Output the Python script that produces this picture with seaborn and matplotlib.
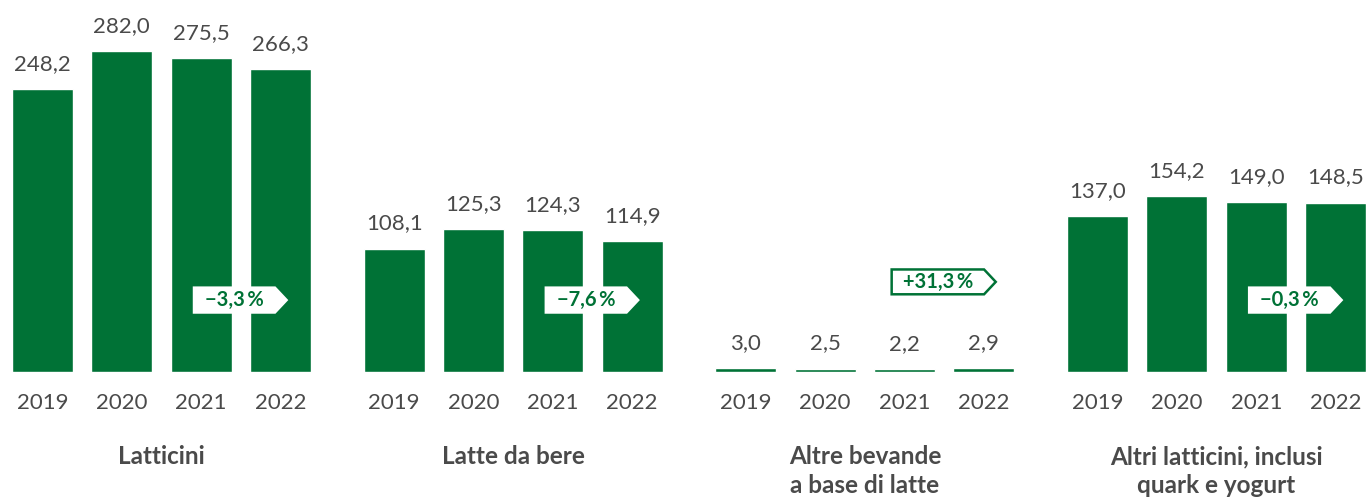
import numpy as np
import pandas as pd
import matplotlib
matplotlib.use('Agg')
import matplotlib.pyplot as plt
from matplotlib.path import Path
import seaborn as sns

# Dati (milioni di ...)
anni = ['2019', '2020', '2021', '2022']
categorie = ['Latticini', 'Latte da bere', 'Altre bevande\na base di latte',
             'Altri latticini, inclusi\nquark e yogurt']
latticini = [248.2, 282.0, 275.5, 266.3]
latte_da_bere = [108.1, 125.3, 124.3, 114.9]
altre_bevande = [3.0, 2.5, 2.2, 2.9]
altri_latticini = [137.0, 154.2, 149.0, 148.5]
variazioni = ['−3,3\u2009%', '−7,6\u2009%', '+31,3\u2009%', '−0,3\u2009%']

serie = [latticini, latte_da_bere, altre_bevande, altri_latticini]

verde = '#007236'
grigio = '#4a4a4a'

sns.set_style('white')
plt.rcParams['font.family'] = ['Lato', 'DejaVu Sans']


def tag_box(x0, y0, width, height, mutation_size):
    # riquadro a forma di etichetta con punta a destra
    px = 0.55 * mutation_size
    py = 0.12 * mutation_size
    tip = 0.58 * mutation_size
    x0, x1 = x0 - px, x0 + width + px
    y0, y1 = y0 - py, y0 + height + py
    verts = [(x0, y0), (x1, y0), (x1 + tip, (y0 + y1) / 2), (x1, y1), (x0, y1), (x0, y0)]
    return Path(verts, closed=True)


fig = plt.figure(figsize=(13.67, 5.01), dpi=100)
W, H = 1367, 501
base_px = 371.7
px_per_unit = 1.137

for i, (vals, cat, var) in enumerate(zip(serie, categorie, variazioni)):
    left = 12 + i * 351.7
    ax = fig.add_axes([left / W, (H - base_px) / H, 299 / W, base_px / H])
    df = pd.DataFrame({'anno': anni, 'valore': vals})
    sns.barplot(data=df, x='anno', y='valore', color=verde, width=0.77,
                saturation=1, ax=ax)
    ax.set_xlim(-0.385, 3.385)
    ax.set_ylim(0, base_px / px_per_unit)
    ax.bar_label(ax.containers[0], labels=[f'{v:.1f}'.replace('.', ',') for v in vals],
                 padding=11, fontsize=16, color=grigio)
    ax.set_xlabel('')
    ax.set_ylabel('')
    ax.set_yticks([])
    ax.tick_params(axis='x', length=0, pad=15, labelsize=16, labelcolor=grigio)
    sns.despine(ax=ax, left=True, bottom=True)

    # etichetta variazione 2019-2022
    sopra_barra = vals[-1] > 100
    y_lab = 63 if sopra_barra else 79
    ax.text(2.42, y_lab, var, ha='center', va='center', fontsize=14.5,
            fontweight='bold', color=verde,
            bbox=dict(boxstyle=tag_box, facecolor='white',
                      edgecolor='white' if sopra_barra else verde,
                      linewidth=1.8))

    # titolo categoria
    fig.text((left + 149.5) / W, 1 - 445 / H, cat, ha='center', va='top',
             fontsize=17.5, fontweight='bold', color=grigio, linespacing=1.32)

fig.savefig('out.png', dpi=100)
